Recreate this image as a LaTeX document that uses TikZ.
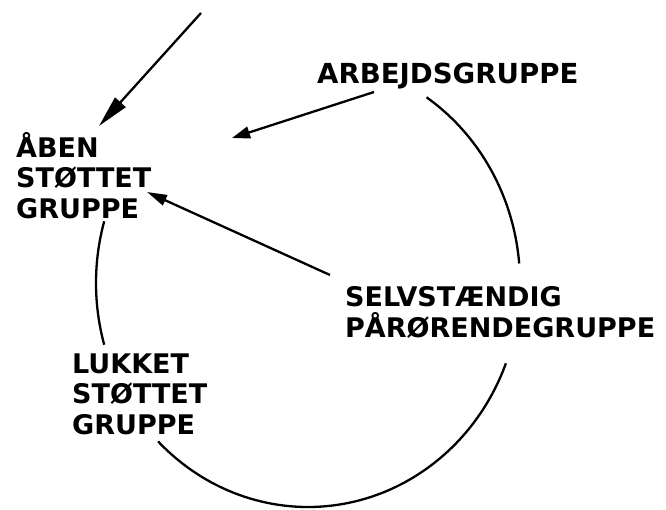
\documentclass[tikz,border=0pt]{standalone}
\usepackage{fontspec}
\setmainfont{DejaVu Sans}
\usetikzlibrary{arrows.meta}
\begin{document}
\begin{tikzpicture}[x=1pt,y=-1pt,
  lbl/.style={font=\bfseries\fontsize{27}{30.5}\selectfont, align=left, inner sep=0pt, anchor=base west},
  conn/.style={line width=2.3pt},
  ring/.style={line width=2.3pt}
]
\useasboundingbox (0,0) rectangle (666,509);
% labels (anchor = baseline of last line)
\node[lbl] (aben) at (16,218) {ÅBEN\\STØTTET\\GRUPPE};
\node[lbl, font=\bfseries\fontsize{27.6}{30.5}\selectfont] (arb) at (317,83) {ARBEJDSGRUPPE};
\node[lbl] (sel) at (345,337) {SELVSTÆNDIG\\PÅRØRENDEGRUPPE};
\node[lbl] (luk) at (72,434) {LUKKET\\STØTTET\\GRUPPE};
% connector end points
\coordinate (topA) at (201,13);
\coordinate (tipA) at (99,126);
\coordinate (startB) at (374,92);
\coordinate (tipB) at (232,138);
\coordinate (startC) at (330,275);
\coordinate (tipC) at (147,192);
% arrows
\draw[conn, -{Triangle[length=32pt,width=14pt]}] (topA) -- (tipA);
\draw[conn, -{Triangle[length=18pt,width=12pt]}] (startB) -- (tipB);
\draw[conn, -{Triangle[length=20pt,width=11pt]}] (startC) -- (tipC);
% the circle, broken where labels are
\coordinate (ctr) at (308,283);
\draw[ring] (ctr) ++(-56:212 and 224) arc[start angle=-56, end angle=-5, x radius=212, y radius=224];
\draw[ring] (ctr) ++(21:212 and 224) arc[start angle=21, end angle=135, x radius=212, y radius=224];
\draw[ring] (ctr) ++(164:212 and 224) arc[start angle=164, end angle=196, x radius=212, y radius=224];
\end{tikzpicture}
\end{document}
